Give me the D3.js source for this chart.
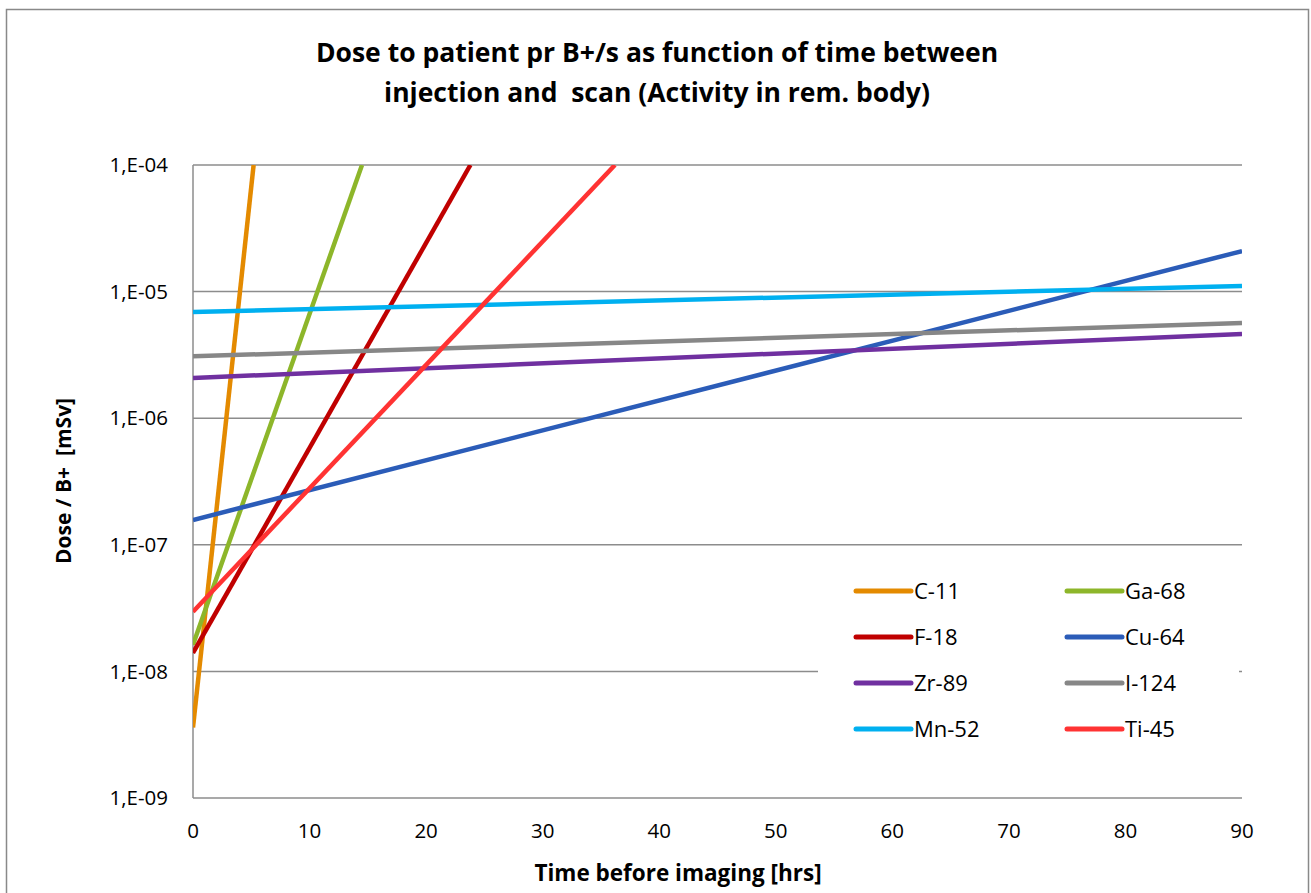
<!DOCTYPE html>
<head>
  <meta charset="utf-8">
  <script src="https://cdn.jsdelivr.net/npm/d3@7/dist/d3.min.js"></script>
  <style>
    body {
      margin:0;
      background:#fff;
    }
    text {
      font-family: "Open Sans", "Noto Sans", sans-serif;
      fill: #000;
    }
  </style>
</head>

<body>
  <svg width="1311" height="893"></svg>
  <script>
    // Series: time [hrs] and dose [mSv] at both ends of each line.
    var isotopes = ["C-11", "Ga-68", "F-18", "Cu-64", "Zr-89", "I-124", "Mn-52", "Ti-45"];
    var colors = ["#E48A00", "#8DB62A", "#C00000", "#2B5CB8", "#7030A0", "#878787", "#00B0F0", "#FF3333"];
    var times = [
      [0, 5.2],
      [0, 14.5],
      [0, 23.8],
      [0, 90],
      [0, 90],
      [0, 90],
      [0, 90],
      [0, 36.2]
    ];
    var doses = [
      [3.6e-9, 1e-4],
      [1.62e-8, 1e-4],
      [1.40e-8, 1e-4],
      [1.57e-7, 2.09e-5],
      [2.08e-6, 4.62e-6],
      [3.08e-6, 5.65e-6],
      [6.9e-6, 1.107e-5],
      [2.96e-8, 1e-4]
    ];
    var xTicks = [0, 10, 20, 30, 40, 50, 60, 70, 80, 90];
    var yTicks = [1e-9, 1e-8, 1e-7, 1e-6, 1e-5, 1e-4];

    var svg = d3.select("svg");
    var plotL = 193, plotR = 1242, plotT = 165, plotB = 798;

    // outer chart border
    svg.append("rect")
      .attr("x", 6.5).attr("y", 9.5)
      .attr("width", 1302).attr("height", 900)
      .attr("fill", "none").attr("stroke", "#898989").attr("stroke-width", 1.5);

    var x = d3.scaleLinear().domain([0, 90]).range([plotL, plotR]);
    var y = d3.scaleLog().domain([1e-9, 1e-4]).range([plotB, plotT]);

    // gridlines
    svg.append("g")
      .selectAll("line")
      .data(yTicks.slice(1))
      .enter().append("line")
        .attr("x1", plotL).attr("x2", plotR)
        .attr("y1", function (d) { return y(d); })
        .attr("y2", function (d) { return y(d); })
        .attr("stroke", "#8c8c8c").attr("stroke-width", 1.5);

    // axis lines
    svg.append("line")
      .attr("x1", plotL).attr("x2", plotL).attr("y1", plotT).attr("y2", plotB)
      .attr("stroke", "#8c8c8c").attr("stroke-width", 1.5);
    svg.append("line")
      .attr("x1", plotL).attr("x2", plotR).attr("y1", plotB).attr("y2", plotB)
      .attr("stroke", "#8c8c8c").attr("stroke-width", 1.5);

    // tick labels
    svg.append("g")
      .selectAll("text")
      .data(yTicks)
      .enter().append("text")
        .attr("x", 168)
        .attr("y", function (d) { return y(d); })
        .attr("dy", "0.35em")
        .attr("text-anchor", "end")
        .style("font-size", "20.5px")
        .text(function (d) { return "1,E-0" + Math.round(-Math.log10(d)); });

    svg.append("g")
      .selectAll("text")
      .data(xTicks)
      .enter().append("text")
        .attr("x", function (d) { return x(d); })
        .attr("y", 831)
        .attr("dy", "0.35em")
        .attr("text-anchor", "middle")
        .style("font-size", "20.5px")
        .text(function (d) { return d; });

    // clip the lines to the plot area
    svg.append("clipPath").attr("id", "plot")
      .append("rect")
        .attr("x", plotL).attr("y", plotT)
        .attr("width", plotR - plotL).attr("height", plotB - plotT);

    var line = d3.line()
      .x(function (d) { return x(d[0]); })
      .y(function (d) { return y(d[1]); });

    svg.append("g")
      .attr("clip-path", "url(#plot)")
      .selectAll("path")
      .data(isotopes)
      .enter().append("path")
        .attr("d", function (d, i) { return line(d3.zip(times[i], doses[i])); })
        .attr("fill", "none")
        .attr("stroke", function (d, i) { return colors[i]; })
        .attr("stroke-width", 4.5);

    // legend
    svg.append("rect")
      .attr("x", 818).attr("y", 556)
      .attr("width", 421).attr("height", 196)
      .attr("fill", "#fff");

    var legend = svg.append("g")
      .selectAll("g")
      .data(isotopes)
      .enter().append("g")
        .attr("transform", function (d, i) {
          return "translate(" + (856 + (i % 2) * 211) + "," + (591 + Math.floor(i / 2) * 46) + ")";
        });
    legend.append("line")
      .attr("x1", 0).attr("x2", 55)
      .attr("stroke", function (d, i) { return colors[i]; })
      .attr("stroke-width", 5)
      .attr("stroke-linecap", "round");
    legend.append("text")
      .attr("x", 58)
      .attr("dy", "0.35em")
      .style("font-size", "22px")
      .text(function (d) { return d; });

    // titles
    var title = svg.append("text")
      .attr("text-anchor", "middle")
      .style("font-size", "26.5px")
      .style("font-weight", "bold");
    title.append("tspan").attr("x", 657).attr("y", 62)
      .text("Dose to patient pr B+/s as function of time between");
    title.append("tspan").attr("x", 657).attr("y", 102)
      .attr("xml:space", "preserve")
      .text("injection and  scan (Activity in rem. body)");

    svg.append("text")
      .attr("x", 678).attr("y", 881)
      .attr("text-anchor", "middle")
      .style("font-size", "22.5px")
      .style("font-weight", "bold")
      .text("Time before imaging [hrs]");

    svg.append("text")
      .attr("transform", "translate(71,481) rotate(-90)")
      .attr("text-anchor", "middle")
      .style("font-size", "21px")
      .style("font-weight", "bold")
      .attr("xml:space", "preserve")
      .text("Dose / B+  [mSv]");
  </script>
</body>
